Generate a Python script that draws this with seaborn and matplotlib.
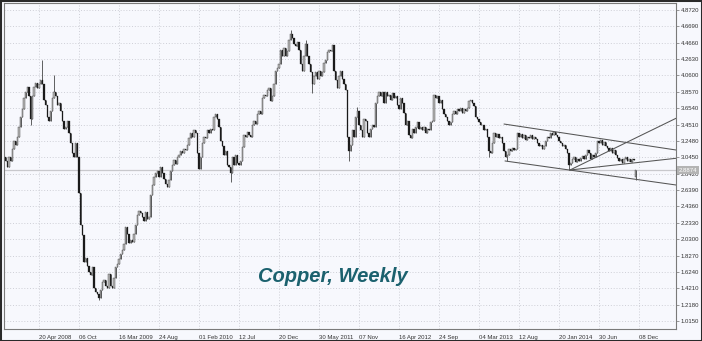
import numpy as np
import pandas as pd
import matplotlib
matplotlib.use("Agg")
import matplotlib.pyplot as plt
import matplotlib.transforms as mtransforms
from matplotlib.patches import Rectangle
import seaborn as sns

# ---------------- data (weekly closes) ----------------
first_bar = -20  # bar index of first candle; bar 0 = week of 20 Apr 2008
closes = [
    3.00, 2.92, 3.05, 3.00, 3.15, 3.25, 3.20, 3.30, 3.42, 3.55,
    3.65, 3.78, 3.85, 3.92, 3.80, 3.52, 3.80, 3.92, 3.97, 3.90,
    3.95, 4.00, 3.95, 3.75, 3.70, 3.55, 3.50, 3.62, 3.78, 3.85,
    3.80, 3.70, 3.72, 3.62, 3.50, 3.40, 3.42, 3.50, 3.35, 3.22,
    3.10, 3.05, 3.22, 3.05, 2.60, 2.20, 2.08, 1.75, 1.80, 1.70,
    1.62, 1.58, 1.68, 1.42, 1.38, 1.35, 1.30, 1.40, 1.50, 1.52,
    1.45, 1.42, 1.60, 1.45, 1.42, 1.55, 1.68, 1.72, 1.78, 1.85,
    1.90, 1.97, 2.18, 2.10, 1.98, 2.02, 2.00, 2.10, 2.20, 2.33,
    2.38, 2.35, 2.30, 2.25, 2.37, 2.28, 2.30, 2.58, 2.70, 2.80,
    2.85, 2.88, 2.80, 2.93, 2.85, 2.78, 2.72, 2.68, 2.76, 2.88,
    2.95, 3.01, 2.96, 3.05, 3.08, 3.12, 3.10, 3.15, 3.14, 3.20,
    3.28, 3.35, 3.30, 3.38, 3.35, 3.10, 2.90, 3.05, 3.22, 3.30,
    3.28, 3.38, 3.35, 3.40, 3.38, 3.55, 3.58, 3.52, 3.42, 3.25,
    3.18, 3.08, 3.12, 2.95, 2.92, 2.85, 3.05, 2.95, 3.08, 2.98,
    2.95, 3.00, 3.17, 3.32, 3.30, 3.36, 3.32, 3.30, 3.45, 3.50,
    3.46, 3.58, 3.62, 3.58, 3.78, 3.82, 3.80, 3.88, 3.90, 3.74,
    3.80, 3.95, 4.12, 4.15, 4.20, 4.38, 4.30, 4.40, 4.30, 4.36,
    4.50, 4.58, 4.52, 4.45, 4.42, 4.48, 4.38, 4.20, 4.12, 4.30,
    4.45, 4.30, 4.20, 4.10, 3.95, 4.05, 4.10, 4.02, 4.12, 4.05,
    4.10, 4.22, 4.25, 4.35, 4.38, 4.36, 4.44, 4.12, 4.00, 3.90,
    4.05, 4.12, 4.02, 3.95, 3.88, 3.30, 3.12, 3.20, 3.38, 3.30,
    3.55, 3.62, 3.45, 3.38, 3.30, 3.52, 3.50, 3.35, 3.30, 3.40,
    3.45, 3.42, 3.72, 3.80, 3.85, 3.80, 3.86, 3.72, 3.85, 3.80,
    3.82, 3.75, 3.84, 3.78, 3.80, 3.70, 3.65, 3.78, 3.72, 3.60,
    3.45, 3.50, 3.32, 3.28, 3.40, 3.35, 3.42, 3.48, 3.40, 3.42,
    3.38, 3.42, 3.35, 3.40, 3.38, 3.48, 3.50, 3.82, 3.78, 3.80,
    3.72, 3.75, 3.65, 3.58, 3.55, 3.50, 3.45, 3.48, 3.58, 3.62,
    3.58, 3.65, 3.62, 3.66, 3.60, 3.65, 3.62, 3.66, 3.74, 3.75,
    3.72, 3.68, 3.55, 3.52, 3.48, 3.45, 3.44, 3.38, 3.40, 3.30,
    3.12, 3.10, 3.22, 3.35, 3.30, 3.34, 3.28, 3.30, 3.22, 3.12,
    3.05, 3.08, 3.15, 3.12, 3.16, 3.13, 3.15, 3.35, 3.30, 3.33,
    3.28, 3.32, 3.26, 3.30, 3.28, 3.32, 3.27, 3.30, 3.27, 3.22,
    3.18, 3.20, 3.15, 3.18, 3.25, 3.30, 3.28, 3.35, 3.32, 3.36,
    3.32, 3.30, 3.25, 3.22, 3.18, 3.20, 3.15, 3.10, 2.95, 2.98,
    3.02, 3.05, 2.99, 3.03, 3.00, 3.04, 3.06, 3.02, 3.08, 3.14,
    3.10, 3.02, 3.07, 3.05, 3.10, 3.25, 3.22, 3.26, 3.20, 3.23,
    3.18, 3.16, 3.12, 3.16, 3.10, 3.14, 3.08, 3.04, 3.00, 3.02,
    2.98, 3.03, 3.05, 3.00, 3.02, 2.99, 3.03, 3.01, 2.8874,
]
first_open = 3.05
# notable wick extremes (bar index, price)
spike_idx = [-5, 2, 9, 36, 115, 151, 160, 164, 186, 191, 270, 281, 318, 358]
spike_price = [3.45, 4.25, 4.07, 1.27, 2.74, 4.62, 4.50, 3.84, 3.00, 3.67, 3.05, 3.00, 2.89, 2.77]
# bars that opened with a gap (bar index, open)
gap_idx = [358]
gap_open = [2.80]
current_price = 2.8874

x_tick_labels = ["20 Apr 2008", "06 Oct", "16 Mar 2009", "24 Aug", "01 Feb 2010",
                 "12 Jul", "20 Dec", "30 May 2011", "07 Nov", "16 Apr 2012",
                 "24 Sep", "04 Mar 2013", "12 Aug", "20 Jan 2014", "30 Jun", "08 Dec"]
x_tick_bars = [0, 24, 48, 72, 96, 120, 144, 168, 192, 216, 240, 264, 288, 312, 336, 360]
y_tick_values = [1.0150, 1.2180, 1.4210, 1.6240, 1.8270, 2.0300, 2.2330, 2.4360,
                 2.6390, 2.8420, 3.0450, 3.2480, 3.4510, 3.6540, 3.8570, 4.0600,
                 4.2630, 4.4660, 4.6690, 4.8720]

# trend lines drawn on the chart (start bar, start price, end bar, end price)
trend_name = ["upper channel", "lower channel", "rising", "flat"]
trend_x0 = [279.0, 279.6, 318.6, 318.6]
trend_y0 = [3.458, 3.000, 2.888, 2.888]
trend_x1 = [382.2, 382.2, 382.2, 382.2]
trend_y1 = [3.136, 2.702, 3.529, 3.033]

title = "Copper, Weekly"

# ---------------- figure ----------------
sns.set_theme(style="white")
plt.rcParams['font.family'] = ['Liberation Sans', 'DejaVu Sans']

W, H = 702, 341
bg = '#f7f8fd'
fig = plt.figure(figsize=(W / 100, H / 100), dpi=100, facecolor=bg)
ax = fig.add_axes([4 / W, 1 - 329 / H, 672 / W, 326 / H])
ax.set_facecolor(bg)

idx = np.arange(first_bar, first_bar + len(closes))
c = np.array(closes, dtype=float)
o = np.r_[first_open, c[:-1]]
for gi, go in zip(gap_idx, gap_open):
    o[gi - first_bar] = go
hi = np.maximum(o, c)
lo = np.minimum(o, c)
for si, sp in zip(spike_idx, spike_price):
    k = si - first_bar
    hi[k] = max(hi[k], sp)
    lo[k] = min(lo[k], sp)

df = pd.DataFrame({"bar": idx, "open": o, "close": c, "high": hi, "low": lo})
df["bottom"] = df[["open", "close"]].min(axis=1)
df["height"] = (df["close"] - df["open"]).abs().clip(lower=0.006)
bull = df[df["close"] >= df["open"]]
bear = df[df["close"] < df["open"]]

# current-price line
ax.axhline(current_price, color='#c8c8cc', lw=0.9, zorder=1)

# wicks
ax.vlines(df["bar"], df["low"], df["high"], color='#222222', lw=0.5, zorder=3)
# bodies
ax.bar(bear["bar"], bear["height"], bottom=bear["bottom"], width=0.7,
       color='#1a1a1a', edgecolor='#1a1a1a', linewidth=0.2, zorder=4)
ax.bar(bull["bar"], bull["height"], bottom=bull["bottom"], width=0.7,
       color='#b8b8b8', edgecolor='#404040', linewidth=0.3, zorder=4)

# trend lines via seaborn
tl = pd.DataFrame({
    "x": trend_x0 + trend_x1,
    "y": trend_y0 + trend_y1,
    "line": trend_name + trend_name,
})
sns.lineplot(data=tl, x="x", y="y", units="line", estimator=None,
             color='#555555', lw=0.75, legend=False, ax=ax, zorder=5)

# axes
ax.set_xlim(-21.0, 382.2)
ax.set_ylim(0.916, 4.959)
ax.set_xlabel("")
ax.set_ylabel("")
ax.yaxis.tick_right()
ax.set_yticks(y_tick_values)
ax.set_yticklabels([f"{v:.4f}" for v in y_tick_values])
ax.set_xticks(x_tick_bars)
ax.set_xticklabels(x_tick_labels, ha='left')
ax.tick_params(axis='both', labelsize=4.3, length=2.5, width=0.6,
               direction='out', colors='#888888', labelcolor='#333333')
ax.tick_params(axis='x', pad=2)
ax.tick_params(axis='y', pad=1)
ax.grid(True, color='#c9cad2', linestyle=(0, (1.2, 2.2)), lw=0.6, zorder=0)
for s in ax.spines.values():
    s.set_color('#7a7a7a')
    s.set_linewidth(0.8)

# current price label
trans = mtransforms.blended_transform_factory(ax.transAxes, ax.transData)
ax.text(1.004, current_price, f"{current_price:.4f}", transform=trans,
        fontsize=4.3, color='white', va='center', ha='left', zorder=6,
        bbox=dict(boxstyle='square,pad=0.25', fc='#b4b4b4', ec='none'))

# title
fig.text(333 / W, 1 - 277 / H, title, ha='center', va='center',
         fontsize=14.5, fontweight='bold', fontstyle='italic',
         color='#1b616e', family=['Liberation Sans', 'DejaVu Sans'])

# outer frame
fig.patches.append(Rectangle((0, 0), 1, 1, transform=fig.transFigure, fill=False,
                             edgecolor='#2a2a2a', lw=2.2, zorder=10))

fig.savefig("out.png", dpi=100, facecolor=bg)
